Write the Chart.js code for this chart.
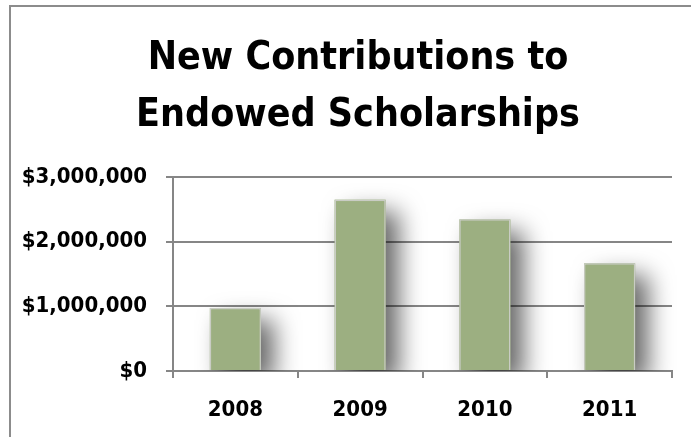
<!DOCTYPE html>
<html>
<head>
<meta charset="utf-8">
<script src="https://cdn.jsdelivr.net/npm/chart.js@4.4.1/dist/chart.umd.min.js"></script>
<style>
  html, body { margin: 0; padding: 0; background: #fff; }
  #wrap { position: relative; width: 691px; height: 437px; }
</style>
</head>
<body>
<div id="wrap"><canvas id="myChart" width="691" height="437"></canvas></div>
<script>
const years = ["2008", "2009", "2010", "2011"];
const contributions = [975000, 2650000, 2345000, 1665000];
const yTicks = [0, 1000000, 2000000, 3000000];
const titleLines = ["New Contributions to", "Endowed Scholarships"];

const barGreen = "#9caf81";
const lineGray = "#868686";
const labelFont = "'DejaVu Sans Condensed', 'DejaVu Sans', sans-serif";

// outer frame around the whole chart
const framePlugin = {
  id: "frame",
  beforeDraw(chart) {
    const ctx = chart.ctx;
    ctx.save();
    ctx.strokeStyle = "#8c8c8c";
    ctx.lineWidth = 2;
    ctx.strokeRect(10, 6, chart.width + 20, chart.height + 20);
    ctx.restore();
  },
  // title sits centred on the frame rather than on the padded canvas
  afterLayout(chart) {
    if (chart.titleBlock) {
      chart.titleBlock.left += 12;
      chart.titleBlock.right += 12;
    }
  }
};

// soft drop shadow behind each bar, kept inside the plot area
const barShadow = {
  id: "barShadow",
  beforeDatasetsDraw(chart) {
    const ctx = chart.ctx;
    const area = chart.chartArea;
    const meta = chart.getDatasetMeta(0);
    ctx.save();
    ctx.beginPath();
    ctx.rect(area.left, area.top, area.right - area.left + 40, area.bottom - area.top);
    ctx.clip();
    ctx.shadowColor = "rgba(0,0,0,0.6)";
    ctx.shadowBlur = 24;
    ctx.shadowOffsetX = 13;
    ctx.shadowOffsetY = 12;
    ctx.fillStyle = barGreen;
    meta.data.forEach(bar => {
      const p = bar.getProps(["x", "y", "base", "width"], true);
      ctx.fillRect(p.x - p.width / 2, p.y, p.width, p.base - p.y);
    });
    ctx.restore();
  }
};

const ctx = document.getElementById("myChart").getContext("2d");
const myChart = new Chart(ctx, {
  type: "bar",
  data: {
    labels: years,
    datasets: [{
      data: contributions,
      backgroundColor: barGreen,
      borderColor: "#c9ccc4",
      borderWidth: 1.5,
      barPercentage: 0.41,
      categoryPercentage: 1
    }]
  },
  options: {
    responsive: false,
    animation: false,
    events: [],
    layout: { padding: { left: 20, right: 19, top: 0, bottom: 0 } },
    plugins: {
      legend: { display: false },
      tooltip: { enabled: false },
      title: {
        display: true,
        text: titleLines,
        color: "#000",
        font: { family: labelFont, size: 39, weight: "bold", lineHeight: 57 / 39 },
        padding: { top: 30, bottom: 33 }
      }
    },
    scales: {
      x: {
        grid: {
          display: true,
          drawOnChartArea: false,
          drawTicks: true,
          tickLength: 7,
          color: lineGray,
          lineWidth: 2
        },
        border: { color: lineGray, width: 2 },
        ticks: {
          color: "#000",
          padding: 19,
          font: { family: labelFont, size: 22, weight: "bold" }
        },
        afterFit(scale) { scale.height = 66; }
      },
      y: {
        min: 0,
        max: 3000000,
        afterBuildTicks(scale) { scale.ticks = yTicks.map(v => ({ value: v })); },
        grid: {
          color: lineGray,
          lineWidth: 2,
          tickLength: 7
        },
        border: { color: lineGray, width: 2 },
        ticks: {
          color: "#000",
          padding: 19,
          font: { family: labelFont, size: 22, weight: "bold" },
          callback: v => "$" + v.toLocaleString("en-US")
        },
        afterFit(scale) { scale.width = 153; }
      }
    }
  },
  plugins: [framePlugin, barShadow]
});
</script>
</body>
</html>
